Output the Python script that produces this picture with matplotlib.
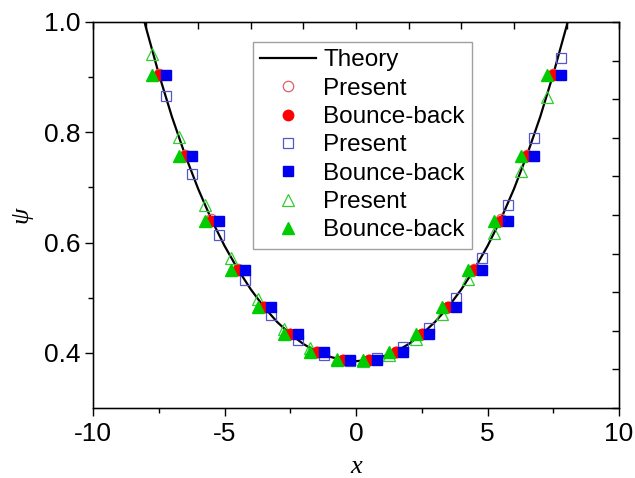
import numpy as np
import matplotlib
matplotlib.use("Agg")
import matplotlib.pyplot as plt

plt.rcParams['font.family'] = ['Liberation Sans', 'DejaVu Sans']
plt.rcParams['axes.unicode_minus'] = False

# theory curve
x_theory = [-8.1, -8.0, -7.5, -7.0, -6.5, -6.0, -5.5, -5.0, -4.5, -4.0, -3.5, -3.0,
            -2.5, -2.0, -1.5, -1.0, -0.5, 0.0, 0.5, 1.0, 1.5, 2.0, 2.5, 3.0,
            3.5, 4.0, 4.5, 5.0, 5.5, 6.0, 6.5, 7.0, 7.5, 8.0, 8.1]
psi_theory = [1.011, 0.992, 0.906, 0.828, 0.759, 0.697, 0.642, 0.594, 0.552, 0.515, 0.483, 0.456,
              0.434, 0.416, 0.402, 0.393, 0.387, 0.385, 0.387, 0.393, 0.402, 0.416, 0.434, 0.456,
              0.483, 0.515, 0.552, 0.594, 0.642, 0.697, 0.759, 0.828, 0.906, 0.992, 1.011]

# red circles
x_red = [-7.5, -6.5, -5.5, -4.5, -3.5, -2.5, -1.5, -0.5, 0.5, 1.5, 2.5, 3.5, 4.5, 5.5, 6.5, 7.5]
psi_red_present = [0.906, 0.759, 0.642, 0.552, 0.483, 0.434, 0.402, 0.387,
                   0.387, 0.402, 0.434, 0.483, 0.552, 0.642, 0.759, 0.906]
psi_red_bb = [0.904, 0.757, 0.640, 0.551, 0.483, 0.434, 0.402, 0.387,
              0.387, 0.402, 0.434, 0.483, 0.551, 0.640, 0.757, 0.904]

# blue squares
x_blue = [-7.22, -6.22, -5.22, -4.22, -3.22, -2.22, -1.22, -0.22,
          0.78, 1.78, 2.78, 3.78, 4.78, 5.78, 6.78, 7.78]
psi_blue_present = [0.866, 0.725, 0.614, 0.532, 0.468, 0.424, 0.397, 0.385,
                    0.390, 0.410, 0.446, 0.500, 0.572, 0.668, 0.790, 0.935]
psi_blue_bb = psi_red_bb

# green triangles
x_green = [-7.74, -6.74, -5.74, -4.74, -3.74, -2.74, -1.74, -0.74,
           0.26, 1.26, 2.26, 3.26, 4.26, 5.26, 6.26, 7.26]
psi_green_present = [0.942, 0.792, 0.668, 0.572, 0.498, 0.444, 0.409, 0.389,
                     0.385, 0.397, 0.425, 0.470, 0.534, 0.617, 0.729, 0.864]
psi_green_bb = psi_red_bb

fig = plt.figure(figsize=(6.35, 4.78), dpi=100)
ax = fig.add_axes([0.1465, 0.1464, 0.8285, 0.8076])

ax.plot(x_theory, psi_theory, color='black', lw=1.6, label='Theory', zorder=2)
ax.plot(x_red, psi_red_present, 'o', ms=7.5, mfc='none', mec='#e06060', mew=0.9,
        label='Present', zorder=3)
ax.plot(x_red, psi_red_bb, 'o', ms=7.5, color='#ff0000', mec='#ff0000',
        label='Bounce-back', zorder=4)
ax.plot(x_blue, psi_blue_present, 's', ms=7, mfc='none', mec='#5555cc', mew=0.9,
        label='Present', zorder=3)
ax.plot(x_blue, psi_blue_bb, 's', ms=7, color='#0000ee', mec='#0000ee',
        label='Bounce-back', zorder=5)
ax.plot(x_green, psi_green_present, '^', ms=8, mfc='none', mec='#33cc33', mew=0.9,
        label='Present', zorder=3)
ax.plot(x_green, psi_green_bb, '^', ms=8, color='#00cc00', mec='#00cc00',
        label='Bounce-back', zorder=4)

ax.set_xlim(-10, 10)
ax.set_ylim(0.3, 1.0)
ax.set_xticks([-10, -5, 0, 5, 10])
ax.set_xticks([-7.5, -2.5, 2.5, 7.5], minor=True)
ax.set_yticks([0.4, 0.6, 0.8, 1.0])
ax.set_yticks([0.5, 0.7, 0.9], minor=True)
ax.set_yticklabels(['0.4', '0.6', '0.8', '1.0'])
ax.tick_params(which='major', direction='out', length=6, width=1, labelsize=19, pad=3)
ax.tick_params(axis='x', which='major', pad=4)
ax.tick_params(which='minor', direction='out', length=3.5, width=1)
for s in ax.spines.values():
    s.set_linewidth(1)

# top / right frame ticks (separate layer in the original)
axt = ax.twiny()
axt.set_xlim(0, 10)
axt.set_xticks(range(11))
axt.tick_params(direction='in', length=5, width=1, labeltop=False)
axr = ax.twinx()
axr.set_ylim(0, 10)
axr.set_yticks(range(11))
axr.tick_params(direction='in', length=5, width=1, labelright=False)

ax.set_xlabel('x', fontsize=19, family='Liberation Serif', style='italic', labelpad=7)
ax.set_ylabel('\u03c8', fontsize=19, family='Liberation Serif', style='italic', labelpad=8)

leg = ax.legend(loc='upper left', bbox_to_anchor=(0.304, 0.948), borderaxespad=0,
                fontsize=17.5, frameon=True, fancybox=False, edgecolor='#888888',
                handlelength=2.3, handletextpad=0.3, labelspacing=0.26, borderpad=0.3)
leg.get_frame().set_linewidth(1)
leg.set_zorder(10)

plt.savefig("out.png", dpi=100)
plt.close()
